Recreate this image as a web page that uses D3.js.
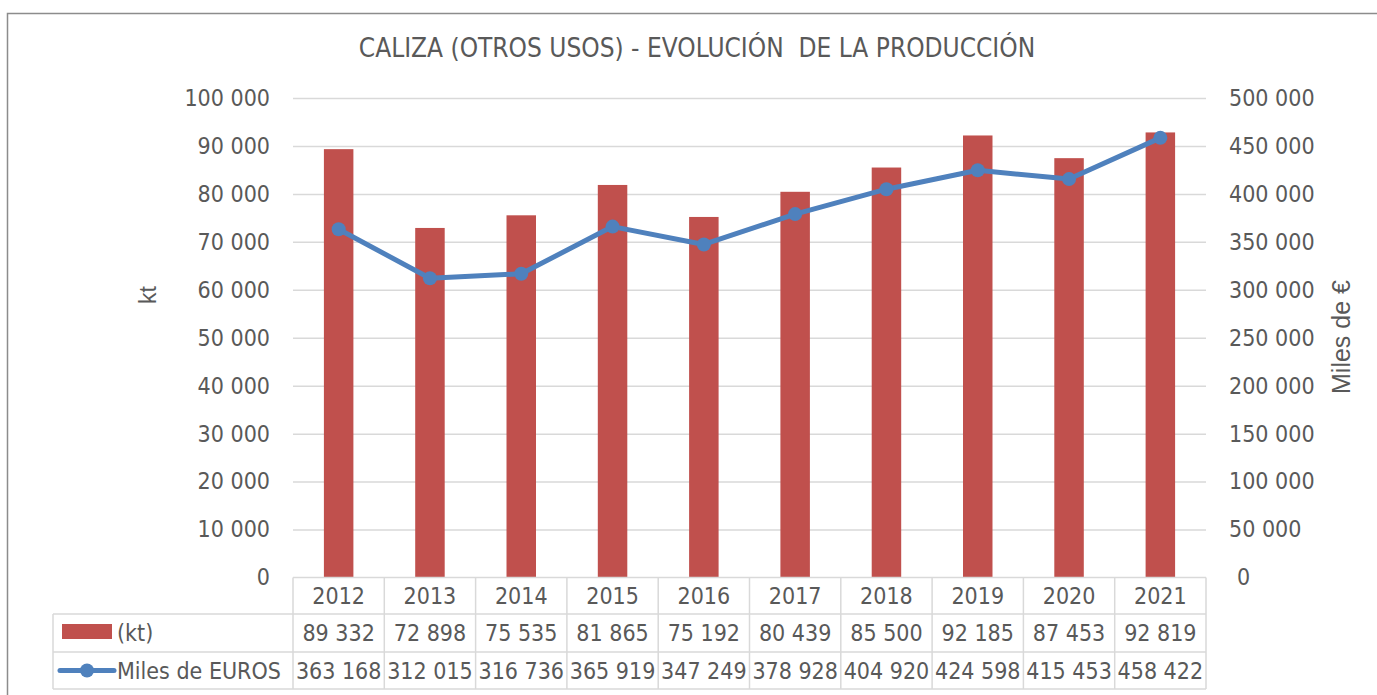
<!DOCTYPE html>
<html>
<head>
<meta charset="utf-8">
<script src="https://cdn.jsdelivr.net/npm/d3@7"></script>
<style>
    body { margin: 0; background: #fff; }
    svg text { fill: #595959; font-family: "DejaVu Sans Condensed", "DejaVu Sans", sans-serif; font-stretch: condensed; }
</style>
</head>
<body>
<svg id="chart" width="1377" height="695"></svg>
<script>
const years = ["2012", "2013", "2014", "2015", "2016", "2017", "2018", "2019", "2020", "2021"];
const kt = [89332, 72898, 75535, 81865, 75192, 80439, 85500, 92185, 87453, 92819];
const euros = [363168, 312015, 316736, 365919, 347249, 378928, 404920, 424598, 415453, 458422];
const leftTicks = [0, 10000, 20000, 30000, 40000, 50000, 60000, 70000, 80000, 90000, 100000];
const rightTicks = [0, 50000, 100000, 150000, 200000, 250000, 300000, 350000, 400000, 450000, 500000];

const locale = d3.formatLocale({ decimal: ",", thousands: " ", grouping: [3], currency: ["", "€"] });
const fmt = locale.format(",d");

const svg = d3.select("#chart");
const plotLeft = 293, plotRight = 1206, plotTop = 98, plotBottom = 577.5;
const rowY = [577.5, 614, 652, 689];
const legendLeft = 53;
const barColor = "#c0504d", lineColor = "#4f81bd";
const gridColor = "#d9d9d9";

// outer frame
svg.append("rect")
    .attr("x", 7.5).attr("y", 13.5)
    .attr("width", 1400).attr("height", 700)
    .attr("fill", "none")
    .attr("stroke", "#8c8c8c")
    .attr("stroke-width", 1.5);

// title
svg.append("text")
    .attr("x", 697).attr("y", 48)
    .attr("dy", "0.35em")
    .attr("text-anchor", "middle")
    .attr("font-size", "26px")
    .style("white-space", "pre")
    .attr("xml:space", "preserve")
    .text("CALIZA (OTROS USOS) - EVOLUCIÓN  DE LA PRODUCCIÓN");

const x = d3.scaleBand().domain(years).range([plotLeft, plotRight]).padding(0);
const yL = d3.scaleLinear().domain([0, 100000]).range([plotBottom, plotTop]);
const yR = d3.scaleLinear().domain([0, 500000]).range([plotBottom, plotTop]);

// left axis + grid
const gL = svg.append("g")
    .attr("transform", `translate(${plotLeft},0)`)
    .call(d3.axisLeft(yL).tickValues(leftTicks).tickFormat(fmt)
        .tickSize(-(plotRight - plotLeft)).tickPadding(23));
gL.select(".domain").remove();
gL.selectAll(".tick line").attr("stroke", gridColor).attr("stroke-width", 1.5);
gL.selectAll(".tick").filter((d) => d === 0).select("line").remove();
gL.selectAll("text").attr("font-size", "23px").attr("fill", "#595959");

// right axis
const gR = svg.append("g")
    .attr("transform", `translate(${plotRight},0)`)
    .call(d3.axisRight(yR).tickValues(rightTicks).tickFormat(fmt)
        .tickSize(0).tickPadding(23));
gR.select(".domain").remove();
gR.selectAll("text").attr("font-size", "23px").attr("fill", "#595959");
gR.selectAll(".tick").filter((d) => d === 0).select("text").attr("dx", 8);

// axis titles
svg.append("text")
    .attr("transform", "translate(148,295) rotate(-90)")
    .attr("dy", "0.35em")
    .attr("text-anchor", "middle")
    .attr("font-size", "23px")
    .style("font-family", "'Liberation Sans', Arial, sans-serif")
    .style("font-stretch", "normal")
    .text("kt");

svg.append("text")
    .attr("transform", "translate(1341,337) rotate(-90)")
    .attr("dy", "0.35em")
    .attr("text-anchor", "middle")
    .attr("font-size", "25px")
    .style("font-family", "'Liberation Sans', Arial, sans-serif")
    .style("font-stretch", "normal")
    .text("Miles de €");

// bars
const barW = x.bandwidth() * 0.323;
svg.append("g")
    .selectAll("rect")
    .data(years)
    .enter()
    .append("rect")
    .attr("x", (d) => x(d) + x.bandwidth() / 2 - barW / 2)
    .attr("y", (d, i) => yL(kt[i]))
    .attr("width", barW)
    .attr("height", (d, i) => plotBottom - yL(kt[i]))
    .attr("fill", barColor);

// line
const line = d3.line()
    .x((d, i) => x(years[i]) + x.bandwidth() / 2)
    .y((d) => yR(d));

svg.append("path")
    .datum(euros)
    .attr("d", line)
    .attr("fill", "none")
    .attr("stroke", lineColor)
    .attr("stroke-width", 5)
    .attr("stroke-linejoin", "round");

svg.append("g")
    .selectAll("circle")
    .data(euros)
    .enter()
    .append("circle")
    .attr("cx", (d, i) => x(years[i]) + x.bandwidth() / 2)
    .attr("cy", (d) => yR(d))
    .attr("r", 7)
    .attr("fill", lineColor);

// data table
const tbl = svg.append("g")
    .attr("stroke", gridColor)
    .attr("stroke-width", 1.5)
    .attr("fill", "none");

tbl.append("line").attr("x1", plotLeft).attr("x2", plotRight).attr("y1", rowY[0]).attr("y2", rowY[0]);
rowY.slice(1).forEach((yy) => {
    tbl.append("line").attr("x1", legendLeft).attr("x2", plotRight).attr("y1", yy).attr("y2", yy);
});
tbl.append("line").attr("x1", legendLeft).attr("x2", legendLeft).attr("y1", rowY[1]).attr("y2", rowY[3]);
years.concat(["end"]).forEach((d) => {
    const xx = d === "end" ? plotRight : x(d);
    tbl.append("line").attr("x1", xx).attr("x2", xx).attr("y1", rowY[0]).attr("y2", rowY[3]);
});

const rowMid = (r) => (rowY[r] + rowY[r + 1]) / 2;
const rows = [years, kt.map(fmt), euros.map(fmt)];
rows.forEach((vals, r) => {
    svg.append("g")
        .selectAll("text")
        .data(vals)
        .enter()
        .append("text")
        .attr("x", (d, i) => x(years[i]) + x.bandwidth() / 2)
        .attr("y", rowMid(r))
        .attr("dy", "0.35em")
        .attr("text-anchor", "middle")
        .attr("font-size", "23px")
        .text((d) => d);
});

// legend keys
svg.append("rect")
    .attr("x", 62).attr("y", 624)
    .attr("width", 50).attr("height", 15)
    .attr("fill", barColor);
svg.append("text")
    .attr("x", 117).attr("y", rowMid(1))
    .attr("dy", "0.35em")
    .attr("font-size", "23px")
    .text("(kt)");

svg.append("line")
    .attr("x1", 60).attr("x2", 114)
    .attr("y1", rowMid(2)).attr("y2", rowMid(2))
    .attr("stroke", lineColor)
    .attr("stroke-width", 5)
    .attr("stroke-linecap", "round");
svg.append("circle")
    .attr("cx", 87).attr("cy", rowMid(2))
    .attr("r", 7)
    .attr("fill", lineColor);
svg.append("text")
    .attr("x", 117).attr("y", rowMid(2))
    .attr("dy", "0.35em")
    .attr("font-size", "23px")
    .text("Miles de EUROS");
</script>
</body>
</html>
